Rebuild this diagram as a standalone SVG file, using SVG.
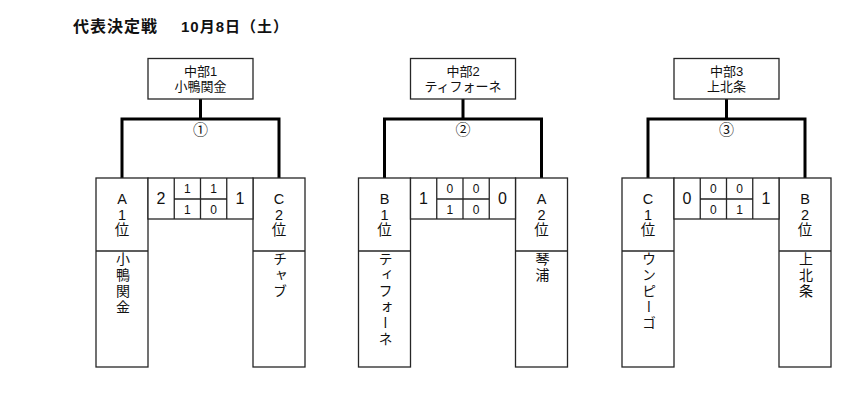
<svg xmlns="http://www.w3.org/2000/svg" width="868" height="405" viewBox="0 0 868 405">
<style>
text{font-family:"Liberation Sans","Noto Sans CJK JP",sans-serif;fill:#111}
.box{fill:#fff;stroke:#262626;stroke-width:1.3}
.ln{stroke:#262626;stroke-width:1.3;fill:none}
.con{stroke:#000;stroke-width:3;fill:none}
.title{font-size:16px;font-weight:bold;letter-spacing:1px}
.date{font-size:15px;font-weight:bold;letter-spacing:1px}
.win{font-size:13px;text-anchor:middle}
.num{font-size:15px;text-anchor:middle}
.rank{font-size:14.5px;text-anchor:middle}
.name{font-size:14px;writing-mode:vertical-rl;text-orientation:upright;letter-spacing:2px}
.big{font-size:16px;text-anchor:middle}
.sm{font-size:12px;text-anchor:middle}
</style>
<rect width="868" height="405" fill="#fff"/>
<g id="title">
<text class="title" x="73" y="32">代表決定戦</text>
<text class="date" x="181" y="32">10月8日（土）</text>
</g>
<g id="connectors">
<path class="con" d="M200.5 99V119M122 178V119H279V178"/>
<path class="con" d="M463 99V119M384.5 178V119H541.5V178"/>
<path class="con" d="M726.5 99V119M648 178V119H805V178"/>
</g>
<g id="match-labels">
<text class="num" x="200.5" y="134.5">①</text>
<text class="num" x="463" y="134.5">②</text>
<text class="num" x="726.5" y="134.5">③</text>
</g>
<g id="winner1" transform="translate(96 0)">
<rect class="box" x="52" y="58.5" width="105" height="40.5"/>
<text class="win" x="104.5" y="76">中部1</text>
<text class="win" x="104.5" y="91">小鴨関金</text>
</g>
<g id="winner2" transform="translate(358.5 0)">
<rect class="box" x="52" y="58.5" width="105" height="40.5"/>
<text class="win" x="104.5" y="76">中部2</text>
<text class="win" x="104.5" y="91">ティフォーネ</text>
</g>
<g id="winner3" transform="translate(622 0)">
<rect class="box" x="52" y="58.5" width="105" height="40.5"/>
<text class="win" x="104.5" y="76">中部3</text>
<text class="win" x="104.5" y="91">上北条</text>
</g>
<g id="team-A1" transform="translate(96 0)">
<rect class="box" x="0" y="178" width="52" height="189"/>
<line class="ln" x1="0" y1="251" x2="52" y2="251"/>
<text class="rank"><tspan x="26" y="204">A</tspan><tspan x="26" y="220">1</tspan><tspan x="26" y="235">位</tspan></text>
<text class="name" x="26" y="252">小鴨関金</text>
</g>
<g id="team-C2" transform="translate(253 0)">
<rect class="box" x="0" y="178" width="52" height="189"/>
<line class="ln" x1="0" y1="251" x2="52" y2="251"/>
<text class="rank"><tspan x="26" y="204">C</tspan><tspan x="26" y="220">2</tspan><tspan x="26" y="235">位</tspan></text>
<text class="name" x="26" y="252">チャブ</text>
</g>
<g id="score1" transform="translate(96 0)">
<rect class="box" x="52" y="178" width="105" height="41"/>
<path class="ln" d="M78.25 178V219M104.5 178V219M130.75 178V219M78.25 199H130.75"/>
<text class="big" x="65" y="204">2</text>
<text class="sm" x="91.4" y="193">1</text>
<text class="sm" x="117.6" y="193">1</text>
<text class="sm" x="91.4" y="213.5">1</text>
<text class="sm" x="117.6" y="213.5">0</text>
<text class="big" x="144" y="204">1</text>
</g>
<g id="team-B1" transform="translate(358.5 0)">
<rect class="box" x="0" y="178" width="52" height="189"/>
<line class="ln" x1="0" y1="251" x2="52" y2="251"/>
<text class="rank"><tspan x="26" y="204">B</tspan><tspan x="26" y="220">1</tspan><tspan x="26" y="235">位</tspan></text>
<text class="name" x="26" y="252">ティフォーネ</text>
</g>
<g id="team-A2" transform="translate(515.5 0)">
<rect class="box" x="0" y="178" width="52" height="189"/>
<line class="ln" x1="0" y1="251" x2="52" y2="251"/>
<text class="rank"><tspan x="26" y="204">A</tspan><tspan x="26" y="220">2</tspan><tspan x="26" y="235">位</tspan></text>
<text class="name" x="26" y="252">琴浦</text>
</g>
<g id="score2" transform="translate(358.5 0)">
<rect class="box" x="52" y="178" width="105" height="41"/>
<path class="ln" d="M78.25 178V219M104.5 178V219M130.75 178V219M78.25 199H130.75"/>
<text class="big" x="65" y="204">1</text>
<text class="sm" x="91.4" y="193">0</text>
<text class="sm" x="117.6" y="193">0</text>
<text class="sm" x="91.4" y="213.5">1</text>
<text class="sm" x="117.6" y="213.5">0</text>
<text class="big" x="144" y="204">0</text>
</g>
<g id="team-C1" transform="translate(622 0)">
<rect class="box" x="0" y="178" width="52" height="189"/>
<line class="ln" x1="0" y1="251" x2="52" y2="251"/>
<text class="rank"><tspan x="26" y="204">C</tspan><tspan x="26" y="220">1</tspan><tspan x="26" y="235">位</tspan></text>
<text class="name" x="26" y="252">ウンピーゴ</text>
</g>
<g id="team-B2" transform="translate(779 0)">
<rect class="box" x="0" y="178" width="52" height="189"/>
<line class="ln" x1="0" y1="251" x2="52" y2="251"/>
<text class="rank"><tspan x="26" y="204">B</tspan><tspan x="26" y="220">2</tspan><tspan x="26" y="235">位</tspan></text>
<text class="name" x="26" y="252">上北条</text>
</g>
<g id="score3" transform="translate(622 0)">
<rect class="box" x="52" y="178" width="105" height="41"/>
<path class="ln" d="M78.25 178V219M104.5 178V219M130.75 178V219M78.25 199H130.75"/>
<text class="big" x="65" y="204">0</text>
<text class="sm" x="91.4" y="193">0</text>
<text class="sm" x="117.6" y="193">0</text>
<text class="sm" x="91.4" y="213.5">0</text>
<text class="sm" x="117.6" y="213.5">1</text>
<text class="big" x="144" y="204">1</text>
</g>
</svg>
